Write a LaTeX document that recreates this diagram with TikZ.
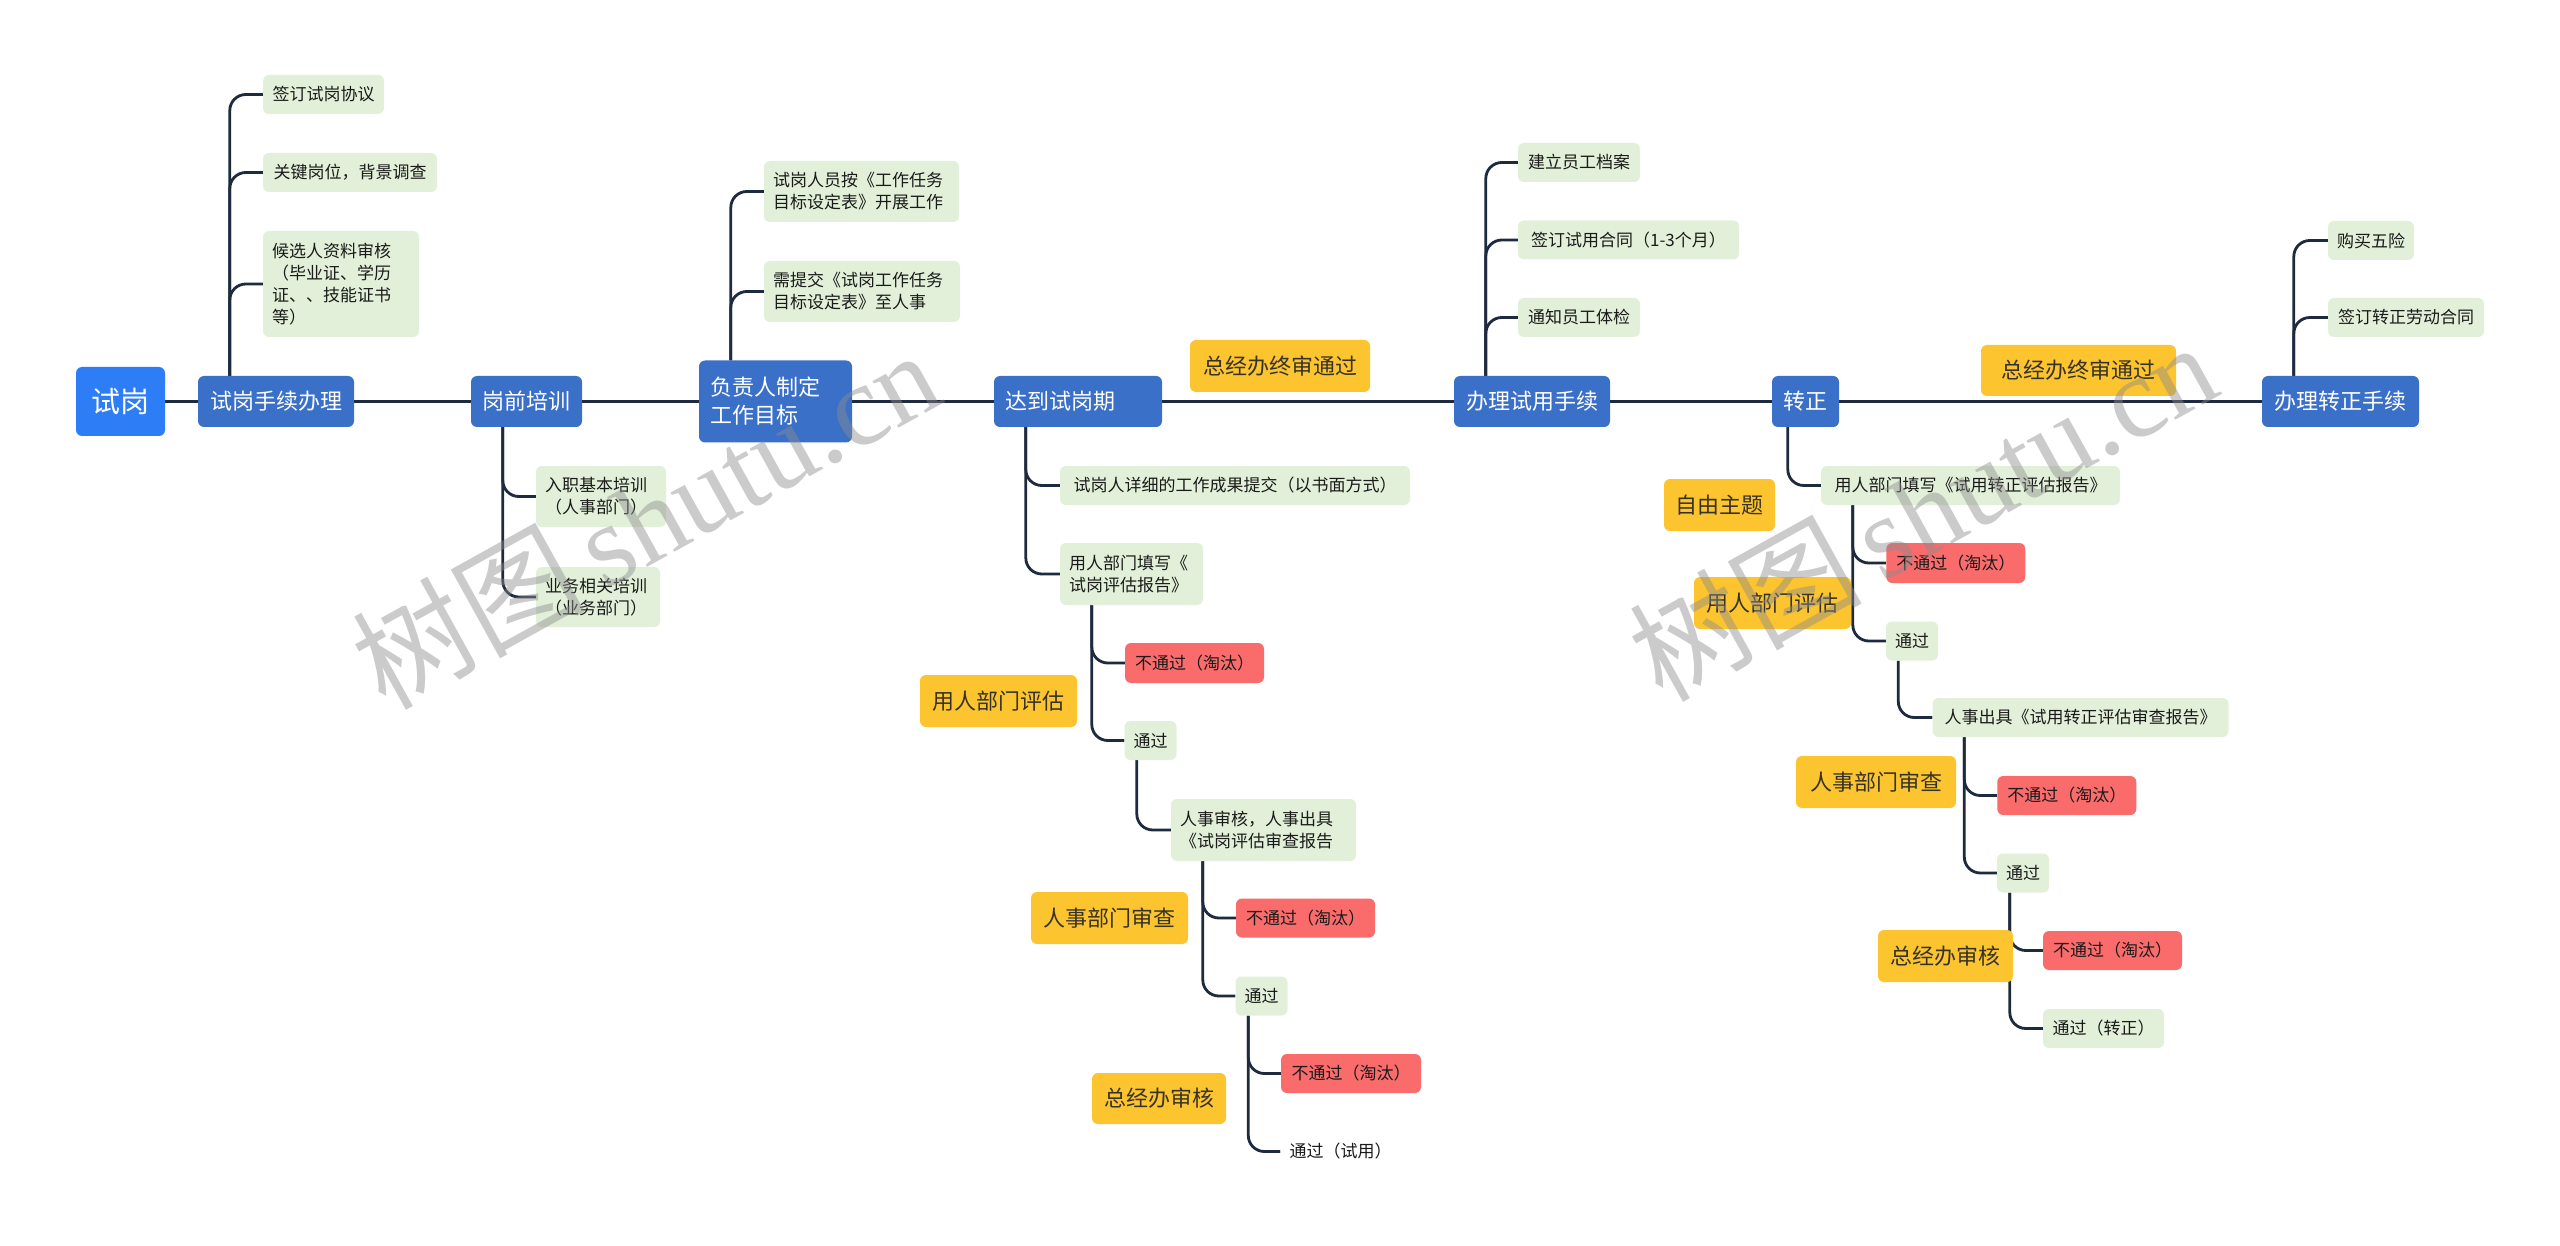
\documentclass[tikz,border=0pt]{standalone}
\usepackage{fontspec}
\setmainfont{Noto Sans CJK SC}
\newfontfamily\wmserif{Liberation Serif}
\newfontfamily\wmcjk{Noto Sans CJK SC}
\definecolor{rootblue}{RGB}{45,125,246}
\definecolor{nodeblue}{RGB}{58,112,200}
\definecolor{lgreen}{RGB}{226,240,217}
\definecolor{lred}{RGB}{250,107,107}
\definecolor{ylw}{RGB}{252,196,46}
\definecolor{linec}{RGB}{30,42,62}
\definecolor{txt}{RGB}{26,26,26}
\definecolor{ytxt}{RGB}{55,50,40}
\pgfdeclarelayer{bg}
\pgfdeclarelayer{lines}
\pgfdeclarelayer{wm}
\pgfsetlayers{bg,lines,main,wm}
\tikzset{
  conn/.style={draw=linec, line width=2.8pt, rounded corners=16pt},
  mainconn/.style={draw=linec, line width=3pt},
  basebox/.style={rounded corners=6pt, inner xsep=9pt, inner ysep=0pt, align=left},
  rootbox/.style={basebox, fill=rootblue, text=white, font=\fontsize{29}{34}\selectfont},
  bluebox/.style={basebox, fill=nodeblue, text=white, inner xsep=11pt, font=\fontsize{22}{28}\selectfont},
  gbox/.style={basebox, fill=lgreen, text=txt, font=\fontsize{17}{22}\selectfont},
  rbox/.style={basebox, fill=lred, text=txt, font=\fontsize{17}{22}\selectfont},
  wbox/.style={basebox, fill=white, text=txt, font=\fontsize{17}{22}\selectfont},
  ybox/.style={basebox, fill=ylw, text=ytxt, font=\fontsize{22}{28}\selectfont},
  sz/.style 2 args={minimum width=#1pt, minimum height=#2pt},
  wmark/.style={inner sep=0pt, text=black!45, text opacity=0.45, font=\fontsize{116}{126}\selectfont},
}
\begin{document}
\begin{tikzpicture}[x=1pt,y=-1pt]
\begin{pgfonlayer}{bg}
\fill[white] (0,0) rectangle (2560,1246);
\end{pgfonlayer}
\useasboundingbox (0,0) rectangle (2560,1246);

% main row
\node[rootbox, sz={89}{69}] (root) at (120.5,401.5) {试岗};
\node[bluebox, sz={156}{51}] (n1) at (276,401.5) {试岗手续办理};
\node[bluebox, sz={111}{51}] (n2) at (526.5,401.5) {岗前培训};
\node[bluebox, text width=131pt, minimum height=82pt] (n3) at (775.5,401.5) {负责人制定\\工作目标};
\node[bluebox, text width=146pt, minimum height=51pt] (n4) at (1078,401.5) {达到试岗期};
\node[bluebox, sz={156}{51}] (n5) at (1532,401.5) {办理试用手续};
\node[bluebox, sz={67}{51}] (n6) at (1805.5,401.5) {转正};
\node[bluebox, sz={157}{51}] (n7) at (2340.5,401.5) {办理转正手续};

% green topics
\node[gbox, sz={121}{39}] (g1) at (323.5,94.5) {签订试岗协议};
\node[gbox, sz={174}{39}] (g2) at (350,172.5) {关键岗位，背景调查};
\node[gbox, text width=138pt, minimum height=106pt] (g3) at (341,284) {候选人资料审核\\（毕业证、学历\\证、、技能证书\\等）};
\node[gbox, text width=177pt, minimum height=61pt] (g4) at (861.5,191.5) {试岗人员按《工作任务\\目标设定表》开展工作};
\node[gbox, text width=178pt, minimum height=61pt] (g5) at (862,291.5) {需提交《试岗工作任务\\目标设定表》至人事};
\node[gbox, text width=112pt, minimum height=61pt] (g6) at (601,496.5) {入职基本培训\\（人事部门）};
\node[gbox, text width=106pt, minimum height=60pt] (g7) at (598,597) {业务相关培训\\（业务部门）};
\node[gbox, sz={350}{39}] (g8) at (1235,485.5) {试岗人详细的工作成果提交（以书面方式）};
\node[gbox, text width=125pt, minimum height=62pt] (g9) at (1131.5,574) {用人部门填写《\\试岗评估报告》};
\node[gbox, sz={51}{39}] (g10) at (1150.5,740.5) {通过};
\node[gbox, text width=167pt, minimum height=62pt] (g11) at (1263.5,830) {人事审核，人事出具\\《试岗评估审查报告};
\node[gbox, sz={51}{39}] (g12) at (1261.5,996) {通过};
\node[wbox, sz={119}{39}] (w1) at (1340.5,1151.5) {通过（试用）};
\node[gbox, sz={122}{39}] (g13) at (1579,162.5) {建立员工档案};
\node[gbox, sz={221}{39}] (g14) at (1628.5,240) {签订试用合同（1-3个月）};
\node[gbox, sz={122}{39}] (g15) at (1579,317.5) {通知员工体检};
\node[gbox, sz={86}{39}] (g16) at (2371,240.5) {购买五险};
\node[gbox, sz={156}{39}] (g17) at (2406,317.5) {签订转正劳动合同};
\node[gbox, sz={299}{39}] (g18) at (1970.5,485.5) {用人部门填写《试用转正评估报告》};
\node[gbox, sz={51}{39}] (g19) at (1912,641) {通过};
\node[gbox, sz={296}{39}] (g20) at (2080.5,717.5) {人事出具《试用转正评估审查报告》};
\node[gbox, sz={52}{39}] (g21) at (2023,873) {通过};
\node[gbox, sz={121}{39}] (g22) at (2103.5,1028.5) {通过（转正）};

% red topics
\node[rbox, sz={139}{40}] (r1) at (1194.5,663) {不通过（淘汰）};
\node[rbox, sz={139}{39}] (r2) at (1305.5,918) {不通过（淘汰）};
\node[rbox, sz={140}{39}] (r3) at (1351,1073.5) {不通过（淘汰）};
\node[rbox, sz={139}{40}] (r4) at (1955.75,563) {不通过（淘汰）};
\node[rbox, sz={139}{39}] (r5) at (2066.75,795.5) {不通过（淘汰）};
\node[rbox, sz={139}{39}] (r6) at (2112.5,950.5) {不通过（淘汰）};

% yellow floating labels
\node[ybox, sz={180}{52}] (y1) at (1280,366) {总经办终审通过};
\node[ybox, sz={195}{51}] (y2) at (2078.5,370.5) {总经办终审通过};
\node[ybox, sz={157}{52}] (y3) at (998.5,701) {用人部门评估};
\node[ybox, sz={157}{52}] (y4) at (1109.5,918) {人事部门审查};
\node[ybox, sz={134}{51}] (y5) at (1159,1098.5) {总经办审核};
\node[ybox, sz={111}{52}] (y6) at (1719.5,505) {自由主题};
\node[ybox, sz={157}{52}] (y7) at (1772.5,603) {用人部门评估};
\node[ybox, sz={160}{52}] (y8) at (1876,782) {人事部门审查};
\node[ybox, sz={135}{52}] (y9) at (1945.5,956) {总经办审核};

\begin{pgfonlayer}{lines}
\draw[mainconn] (root.east) -- (n1.west);
\draw[mainconn] (n1.east) -- (n2.west);
\draw[mainconn] (n2.east) -- (n3.west);
\draw[mainconn] (n3.east) -- (n4.west);
\draw[mainconn] (n4.east) -- (n5.west);
\draw[mainconn] (n5.east) -- (n6.west);
\draw[mainconn] (n6.east) -- (n7.west);
\foreach \c in {g1,g2,g3} \draw[conn] ([xshift=32pt]n1.north west) |- (\c.west);
\foreach \c in {g4,g5} \draw[conn] ([xshift=32pt]n3.north west) |- (\c.west);
\foreach \c in {g13,g14,g15} \draw[conn] ([xshift=32pt]n5.north west) |- (\c.west);
\foreach \c in {g16,g17} \draw[conn] ([xshift=32pt]n7.north west) |- (\c.west);
\foreach \c in {g6,g7} \draw[conn] ([xshift=32pt]n2.south west) |- (\c.west);
\foreach \c in {g8,g9} \draw[conn] ([xshift=32pt]n4.south west) |- (\c.west);
\foreach \c in {r1,g10} \draw[conn] ([xshift=32pt]g9.south west) |- (\c.west);
\draw[conn] ([xshift=12.5pt]g10.south west) |- (g11.west);
\foreach \c in {r2,g12} \draw[conn] ([xshift=32pt]g11.south west) |- (\c.west);
\foreach \c in {r3,w1} \draw[conn] ([xshift=13pt]g12.south west) |- (\c.west);
\draw[conn] ([xshift=16pt]n6.south west) |- (g18.west);
\foreach \c in {r4,g19} \draw[conn] ([xshift=32pt]g18.south west) |- (\c.west);
\draw[conn] ([xshift=12.5pt]g19.south west) |- (g20.west);
\foreach \c in {r5,g21} \draw[conn] ([xshift=32pt]g20.south west) |- (\c.west);
\foreach \c in {r6,g22} \draw[conn] ([xshift=13pt]g21.south west) |- (\c.west);
\end{pgfonlayer}

\begin{pgfonlayer}{wm}
\node[wmark, rotate=29] (wm1) at (645,518) {\wmcjk 树图\,\wmserif shutu.cn};
\node[wmark, rotate=29] (wm2) at (1922,510) {\wmcjk 树图\,\wmserif shutu.cn};
\end{pgfonlayer}
\end{tikzpicture}
\end{document}
